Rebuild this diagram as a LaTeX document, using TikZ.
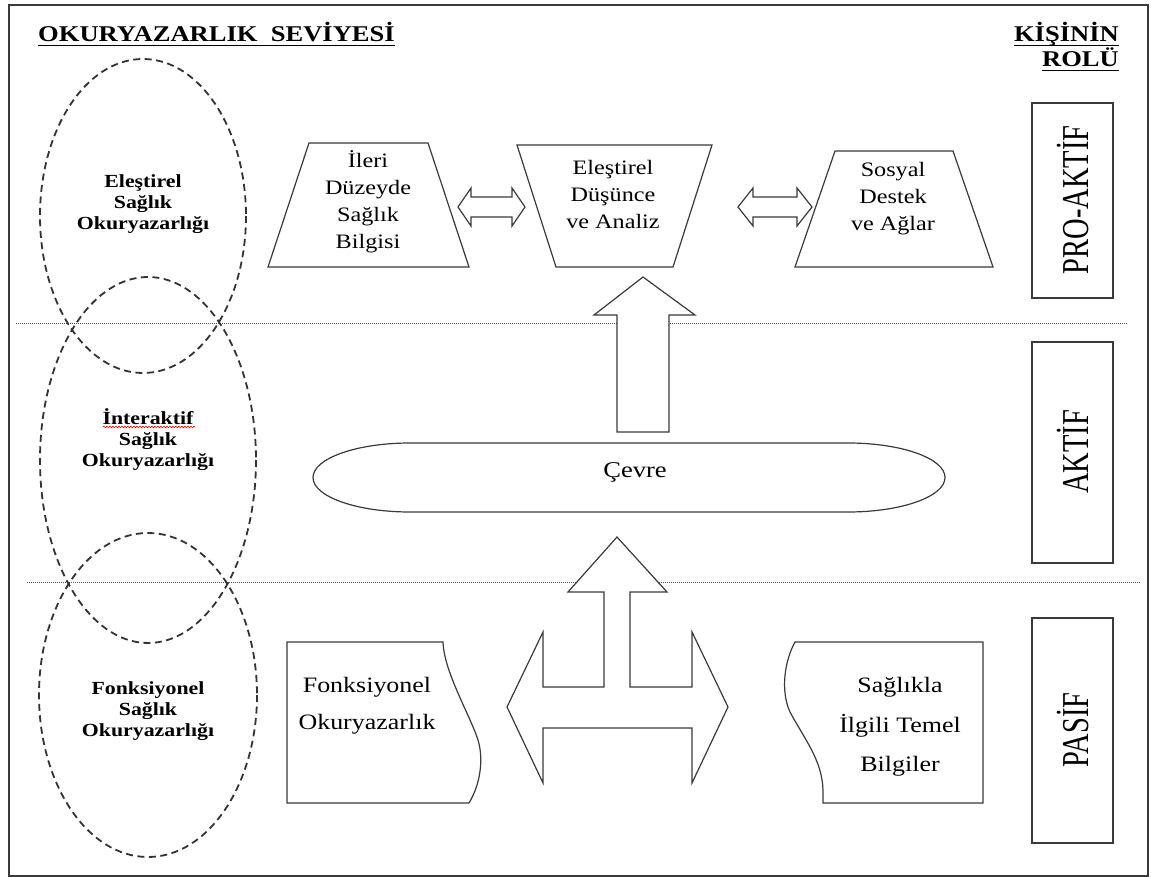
\documentclass[tikz,border=0pt]{standalone}
\usepackage{fontspec}
\setmainfont{Liberation Serif}[FakeStretch=1.18]
\newfontfamily\rotfont{Liberation Serif}
\usetikzlibrary{decorations.pathmorphing}
\definecolor{linegray}{HTML}{3A3A3A}
\definecolor{dashgray}{HTML}{333333}
\definecolor{dotgray}{HTML}{555555}
\begin{document}
\begin{tikzpicture}[x=1pt,y=-1pt,
  blk/.style={draw=linegray, line width=1.2, fill=white},
  lvl/.style={draw=dashgray, line width=1.8, dash pattern=on 7pt off 4.5pt},
  sepline/.style={draw=dotgray, line width=1, dash pattern=on 1pt off 1pt},
  lvltext/.style={align=center, inner sep=0, font=\bfseries\fontsize{18.5}{21}\selectfont},
  lbl/.style={align=center, inner sep=0, font=\fontsize{20.5}{27}\selectfont},
  doclbl/.style={align=center, inner sep=0, font=\fontsize{22}{38}\selectfont},
  head/.style={inner sep=0, font=\bfseries\fontsize{22.5}{25}\selectfont},
  rolebox/.style={blk, line width=1.3},
  roletext/.style={inner sep=0, rotate=90},
  uline/.style={draw=black, line width=1.8}]
\useasboundingbox (0,0) rectangle (1151,877);
\fill[white] (0,0) rectangle (1151,877);
% frame
\draw[line width=1.8, draw=linegray] (9,5) rectangle (1148,876);

% headings
\node[head, anchor=base west] (title) at (38,42) {OKURYAZARLIK\ \ SEVİYESİ};
\draw[uline] ([yshift=-3.5]title.base west) -- ([yshift=-3.5]title.base east);
\node[head, anchor=base east] (kisi) at (1119,42) {KİŞİNİN};
\draw[uline] ([yshift=-3.5]kisi.base west) -- ([yshift=-3.5]kisi.base east);
\node[head, anchor=base east] (rolu) at (1119,67) {ROLÜ};
\draw[uline] ([yshift=-3.5]rolu.base west) -- ([yshift=-3.5]rolu.base east);

% separators
\draw[sepline] (16,323) -- (1128,323);
\draw[sepline] (27,582) -- (1140,582);

% level ellipses
\draw[lvl] (143,216) ellipse[x radius=103, y radius=157];
\draw[lvl] (148,460) ellipse[x radius=108, y radius=183];
\draw[lvl] (148,695) ellipse[x radius=109, y radius=162];
\node[lvltext] (e1) at (143,204) {Eleştirel\\Sağlık\\Okuryazarlığı};
\node[lvltext] (e2) at (148,440) {İnteraktif\\Sağlık\\Okuryazarlığı};
\draw[red, line width=0.6, decorate, decoration={snake, amplitude=0.8pt, segment length=3pt}] (103,427) -- (195,427);
\node[lvltext] (e3) at (148,711) {Fonksiyonel\\Sağlık\\Okuryazarlığı};

% top row trapezoids
\draw[blk] (309,143) -- (428,143) -- (469,267) -- (268,267) -- cycle;
\node[lbl] (ileri) at (368,202) {İleri\\Düzeyde\\Sağlık\\Bilgisi};
\draw[blk] (517,145) -- (712,145) -- (673,267) -- (556,267) -- cycle;
\node[lbl] (elest) at (613,194) {Eleştirel\\Düşünce\\ve Analiz};
\draw[blk] (835,151) -- (953,151) -- (993,267) -- (795,267) -- cycle;
\node[lbl] (sosyal) at (893,199) {Sosyal\\Destek\\ve Ağlar};

% double arrows
\draw[blk] (458,207) -- (471,188) -- (471,197) -- (512,197) -- (512,188) -- (525,207)
  -- (512,226) -- (512,217) -- (471,217) -- (471,226) -- cycle;
\draw[blk] (738,207) -- (753,188) -- (753,197) -- (797,197) -- (797,188) -- (812,207)
  -- (797,226) -- (797,217) -- (753,217) -- (753,226) -- cycle;

% big up arrow
\draw[blk] (643,277) -- (695,315) -- (669,315) -- (669,432) -- (617,432) -- (617,315) -- (594,315) -- cycle;

% Cevre
\draw[blk] (410,443) -- (848,443) arc[start angle=-90, end angle=90, x radius=97, y radius=34.5]
  -- (410,512) arc[start angle=90, end angle=270, x radius=97, y radius=34.5] -- cycle;
\node[lbl, font=\fontsize{22.5}{27}\selectfont] (cevre) at (635,472) {Çevre};

% T arrow
\draw[blk] (617,537) -- (667,592) -- (630,592) -- (630,687) -- (692,687) -- (692,632) -- (728,707)
  -- (692,783) -- (692,728) -- (543,728) -- (543,783) -- (507,707) -- (543,632) -- (543,687)
  -- (604,687) -- (604,592) -- (568,592) -- cycle;

% bottom documents
\draw[blk] (287,642) -- (443,642) .. controls (444,672) and (470,715) .. (478,740)
  .. controls (484,760) and (480,785) .. (469,803) -- (287,803) -- cycle;
\node[doclbl, font=\fontsize{22}{37}\selectfont] (fonk) at (367,706) {Fonksiyonel\\Okuryazarlık};
\draw[blk] (983,642) -- (795,642) .. controls (785,660) and (780,690) .. (790,712)
  .. controls (805,740) and (822,760) .. (823,790) -- (823,803) -- (983,803) -- cycle;
\node[doclbl, font=\fontsize{22}{39.5}\selectfont] (temel) at (900,727) {Sağlıkla\\İlgili Temel\\Bilgiler};

% role boxes
\draw[rolebox] (1032,103) rectangle (1113,298);
\node[roletext] (pro) at (1073,200) {\scalebox{0.75}[1]{\rotfont\fontsize{38}{38}\selectfont PRO-AKTİF}};
\draw[rolebox] (1032,342) rectangle (1113,563);
\node[roletext] (akt) at (1073,452) {\scalebox{0.75}[1]{\rotfont\fontsize{38}{38}\selectfont AKTİF}};
\draw[rolebox] (1032,618) rectangle (1113,843);
\node[roletext] (pas) at (1073,730) {\scalebox{0.75}[1]{\rotfont\fontsize{38}{38}\selectfont PASİF}};
\end{tikzpicture}
\end{document}
